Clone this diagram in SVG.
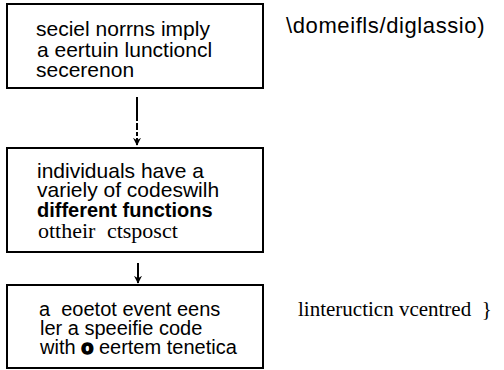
<svg xmlns="http://www.w3.org/2000/svg" width="504" height="370" viewBox="0 0 504 370">
<style>
.box{fill:#fff;stroke:#000;stroke-width:2}
.t{font-family:"Liberation Sans",Arial,sans-serif;font-size:21px;fill:#000}
.t3{font-family:"Liberation Sans",Arial,sans-serif;font-size:20px;fill:#000}
.b{font-family:"Liberation Sans",Arial,sans-serif;font-size:20px;font-weight:bold;fill:#000}
.s{font-family:"Liberation Serif","Times New Roman",serif;font-size:22px;fill:#000}
.edge{stroke:#000;stroke-width:2;fill:none}
</style>
<defs>
<marker id="ah" viewBox="0 0 10 10" refX="9" refY="5" markerWidth="4" markerHeight="4" orient="auto">
<path d="M0,0 L10,5 L0,10 L3,5 Z" fill="#000"/>
</marker>
</defs>
<rect width="504" height="370" fill="#fff"/>
<g id="connectors">
<line class="edge" x1="137" y1="97" x2="137" y2="145" stroke-dasharray="24 2 7 2 4 2 10 2" marker-end="url(#ah)"/>
<line class="edge" x1="138" y1="263" x2="138" y2="283" marker-end="url(#ah)"/>
</g>
<g id="node1">
<rect class="box" x="7" y="4" width="256" height="84"/>
<text class="t" x="36" y="36">seciel norrns imply</text>
<text class="t" x="37" y="57">a eertuin lunctioncl</text>
<text class="t" x="36" y="77">secerenon</text>
</g>
<g id="label1">
<text class="t" x="286" y="33" style="font-size:22px;letter-spacing:0.6px">\domeifls/diglassio)</text>
</g>
<g id="node2">
<rect class="box" x="7" y="148" width="256" height="104"/>
<text class="t" x="37" y="178">individuals have a</text>
<text class="t" x="37" y="197">variely of codeswilh</text>
<text class="b" x="37" y="217">different functions</text>
<text class="s" x="38" y="238" word-spacing="6">ottheir ctsposct</text>
</g>
<g id="node3">
<rect class="box" x="7" y="285" width="256" height="83"/>
<text class="t3" x="39" y="316" xml:space="preserve">a  eoetot event eens</text>
<text class="t3" x="40" y="335">ler a speeifie code</text>
<text class="t3" x="40" y="354">with <tspan font-weight="bold" stroke="#000" stroke-width="1.5">o</tspan> eertem tenetica</text>
</g>
<g id="label2">
<text class="s" x="298" y="316" style="font-size:21px" xml:space="preserve">linteructicn vcentred  }</text>
</g>
</svg>
